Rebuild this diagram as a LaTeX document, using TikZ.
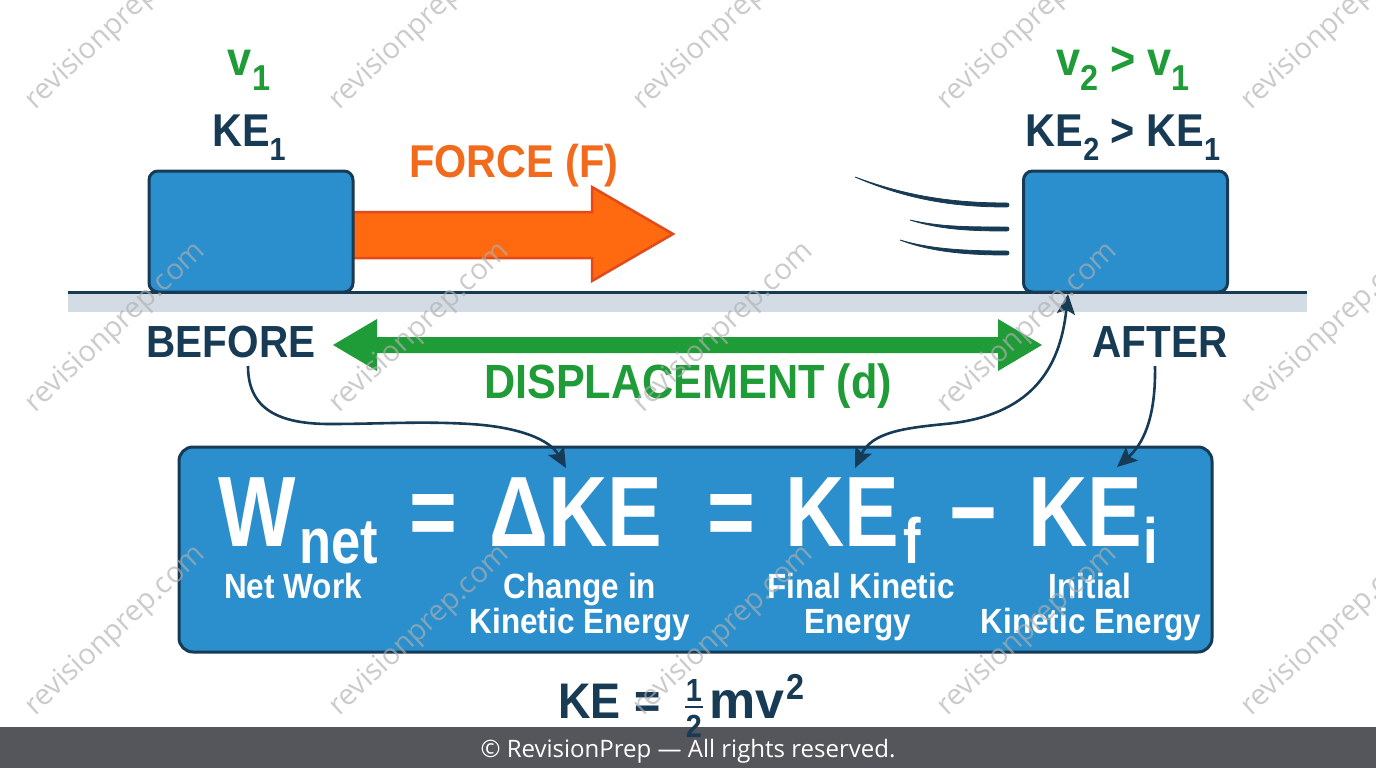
\documentclass[tikz,border=0pt]{standalone}
\usepackage{fontspec}
\setmainfont{Liberation Sans}
\newfontfamily\fA{Liberation Sans}[FakeStretch=0.9]
\newfontfamily\fB{Liberation Sans}[FakeStretch=0.82]
\newfontfamily\fO{Open Sans}
\usetikzlibrary{arrows.meta,calc}
\definecolor{boxblue}{HTML}{2A8FCC}
\definecolor{navy}{HTML}{173A55}
\definecolor{grn}{HTML}{1F9C38}
\definecolor{orng}{HTML}{FF6A10}
\definecolor{orngd}{HTML}{E24A1A}
\definecolor{orngt}{HTML}{F26A1C}
\definecolor{band}{HTML}{D3DCE4}
\definecolor{foot}{HTML}{55565B}
\definecolor{wmcol}{HTML}{B0B0B0}
\newcommand\Fa[1]{\fA\bfseries\fontsize{#1}{#1}\selectfont}
\newcommand\Fb[1]{\fB\bfseries\fontsize{#1}{#1}\selectfont}
\newcommand\lowered[3]{\raisebox{-#1pt}{\fontsize{#2}{#2}\selectfont #3}}
\begin{document}
\begin{tikzpicture}[x=1pt,y=-1pt,
  blk/.style={draw=navy,line width=3pt,fill=boxblue,rounded corners=9pt,minimum width=204pt,minimum height=121pt,inner sep=0pt},
  mainbox/.style={draw=navy,line width=3pt,fill=boxblue,rounded corners=14pt,minimum width=1033pt,minimum height=205pt,inner sep=0pt},
  tx/.style={inner sep=0pt,outer sep=0pt,anchor=base},
  con/.style={draw=navy,line width=2.6pt,-{Stealth[length=20pt,width=18pt,inset=4pt]}},
  con2/.style={draw=navy,line width=2.6pt,{Stealth[length=20pt,width=18pt,inset=4pt]}-{Stealth[length=20pt,width=18pt,inset=4pt]}},
  motion/.style={fill=navy,draw=navy,line width=0.8pt},
  wmk/.style={inner sep=0pt,rotate=43,text=wmcol,text opacity=0.65,font=\fO\fontsize{29}{29}\selectfont}
]
\useasboundingbox (0,0) rectangle (1376,768);
\fill[white] (0,0) rectangle (1376,768);

% ground
\fill[band] (68,293) rectangle (1307,312);
\draw[navy,line width=3pt] (68,292) -- (1307,292);

% force arrow
\draw[fill=orng,draw=orngd,line width=2.5pt,line join=miter]
  (345,212) -- (592,212) -- (592,187) -- (673,234) -- (592,281) -- (592,258) -- (345,258) -- cycle;

% blocks
\node[blk] (b1) at (251,231.5) {};
\node[blk] (b2) at (1125.5,231.5) {};

% motion lines (tapered)
\path[motion] (855,177) .. controls (905,195.5) and (950,203) .. (1007,203)
  arc[start angle=-90,end angle=90,radius=2] .. controls (950,207) and (905,198.5) .. (855,177) -- cycle;
\path[motion] (910,220) .. controls (940,227) and (970,227) .. (1007,227)
  arc[start angle=-90,end angle=90,radius=2] .. controls (970,231) and (940,229.5) .. (910,220) -- cycle;
\path[motion] (900,240) .. controls (930,249) and (965,251) .. (1007,251)
  arc[start angle=-90,end angle=90,radius=2] .. controls (965,255) and (930,251.5) .. (900,240) -- cycle;

% labels above blocks
\node[tx,text=grn,font=\Fa{48}] (v1) at (249,76) {v\lowered{15}{36}{1}};
\node[tx,text=navy,font=\Fa{46}] (ke1) at (249,146) {KE\lowered{14}{32}{1}};
\node[tx,text=grn,font=\Fa{48}] (v2) at (1123,75) {v\lowered{15}{36}{2} > v\lowered{15}{36}{1}};
\node[tx,text=navy,font=\Fa{46}] (ke2) at (1123,146) {KE\lowered{14}{32}{2} > KE\lowered{14}{32}{1}};
\node[tx,text=orngt,font=\Fa{46}] (force) at (514,177) {FORCE (F)};

% before / after
\node[tx,text=navy,font=\Fa{45}] (before) at (231,357) {BEFORE};
\node[tx,text=navy,font=\Fa{45}] (after) at (1160,357) {AFTER};

% displacement arrow
\fill[grn] (333,345) -- (377,319) -- (377,337) -- (998,337) -- (998,319) -- (1042,345)
  -- (998,371) -- (998,353) -- (377,353) -- (377,371) -- cycle;
\node[tx,text=grn,font=\Fa{48}] (disp) at (688,398) {DISPLACEMENT (d)};

% main box
\node[mainbox] (mb) at (695.5,549.5) {};
\node[tx,text=white,font=\Fb{100}] (w) at (257,546) {W};
\node[tx,text=white,font=\Fb{64}] (net) at (339,563) {net};
\node[tx,text=white,font=\Fb{100}] (eq1) at (433,546) {=};
\node[tx,text=white,font=\Fb{100}] (dke) at (576,546) {ΔKE};
\node[tx,text=white,font=\Fb{100}] (eq2) at (731,546) {=};
\node[tx,text=white,font=\Fb{100}] (kef) at (842,546) {KE};
\node[tx,text=white,font=\Fb{64}] (f) at (912,563) {f};
\node[tx,text=white,font=\Fb{100}] (minus) at (973,546) {−};
\node[tx,text=white,font=\Fb{100}] (kei) at (1085,546) {KE};
\node[tx,text=white,font=\Fb{64}] (i) at (1151,563) {i};

\node[tx,text=white,font=\Fa{35}] (l1) at (293,598) {Net Work};
\node[tx,text=white,font=\Fa{35}] (l2a) at (580,598) {Change in};
\node[tx,text=white,font=\Fa{35}] (l2b) at (580,633) {Kinetic Energy};
\node[tx,text=white,font=\Fa{35}] (l3a) at (861,598) {Final Kinetic};
\node[tx,text=white,font=\Fa{35}] (l3b) at (858,633) {Energy};
\node[tx,text=white,font=\Fa{35}] (l4a) at (1090,598) {Initial};
\node[tx,text=white,font=\Fa{35}] (l4b) at (1091,633) {Kinetic Energy};

% connectors
\coordinate (s1) at (248,366);
\coordinate (t1) at (566,468);
\coordinate (t2) at (855,468);
\coordinate (t4) at (1068,294);
\coordinate (s3) at (1155,366);
\coordinate (t3) at (1117,467);
\draw[con] (s1) .. controls (248,410) and (280,424) .. (330,424)
  .. controls (380,424) and (420,421) .. (470,424)
  .. controls (520,427) and (550,440) .. (t1);
\draw[con2] (t2) .. controls (872,432) and (905,428) .. (945,424)
  .. controls (1030,416) and (1060,370) .. (t4);
\draw[con] (s3) .. controls (1156,420) and (1142,445) .. (t3);

% footer
\fill[foot] (0,727) rectangle (1376,768);
\node[tx,text=white,font=\fO\fontsize{24}{24}\selectfont] (copy) at (688,757) {© RevisionPrep — All rights reserved.};

% KE formula
\node[tx,anchor=base west,text=navy,font=\Fa{50}] (ke) at (558,718) {KE};
\node[tx,text=navy,font=\Fa{50}] (eq3) at (648,718) {=};
\node[tx,text=navy,font=\Fa{32}] (num) at (694,701) {1};
\draw[navy,line width=2.5pt] (685,707) -- (703,707);
\node[tx,text=navy,font=\Fa{32}] (den) at (694,737) {2};
\node[tx,anchor=base west,text=navy,font=\bfseries\fontsize{52}{52}\selectfont] (mv) at (709,718) {mv};
\node[tx,anchor=base west,text=navy,font=\Fa{36}] (sq) at ($(mv.base east)+(2,-19)$) {2};

% watermarks
\foreach \wx in {116,420,724,1028,1332}{
  \foreach \wy in {25,328,631}{
    \node[wmk] at (\wx,\wy) {revisionprep.com};
  }
}
\end{tikzpicture}
\end{document}
